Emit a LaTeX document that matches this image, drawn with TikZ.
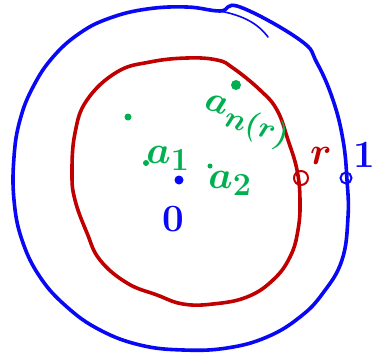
\documentclass[tikz,border=0pt]{standalone}
\definecolor{pblue}{RGB}{8,8,245}
\definecolor{pred}{RGB}{192,0,0}
\definecolor{pgreen}{RGB}{0,176,80}
\tikzset{
  stroke/.style={line width=3.6pt, line cap=round, line join=round},
  gdot/.style={circle, fill=pgreen, inner sep=0pt, minimum size=6pt},
  lbl/.style={inner sep=0pt, font=\Huge\boldmath, scale=1.55},
}
\begin{document}
\begin{tikzpicture}[x=1pt,y=-1pt]
\useasboundingbox (0,0) rectangle (376,356);
% outer blue curve
\draw[stroke, pblue] plot[smooth cycle, tension=0.7] coordinates {
 (187,7) (220,11) (240,7) (300,40) (317,63) (333,100) (343,140) (347,180)
 (348,217) (342,260) (323,293) (300,317) (267,337) (227,348) (183,350)
 (140,345) (100,330) (67,307) (40,277) (22,240) (14,200) (14,157) (20,120)
 (33,87) (53,57) (80,33) (110,18) (147,9)};
\draw[pblue, line width=1.6pt, line cap=round] (220,11) .. controls (245,16) and (258,24) .. (268,37);
% inner red curve
\draw[stroke, pred] plot[smooth cycle, tension=0.7] coordinates {
 (117,72) (150,62) (187,58) (217,60) (233,68) (260,90) (277,110) (288,140)
 (297,170) (300,200) (298,230) (290,257) (273,280) (247,297) (213,304)
 (183,304) (157,295) (127,283) (100,260) (87,233) (75,200) (72,173)
 (75,133) (87,100)};
% marked points
\node[circle, draw=pred, line width=2pt, inner sep=0pt, minimum size=14pt] (pr) at (301,178) {};
\node[circle, draw=pblue, line width=2pt, inner sep=0pt, minimum size=11pt] (p1) at (346,178) {};
\node[circle, fill=pblue, inner sep=0pt, minimum size=9pt] (o) at (179,180) {};
% green points
\node[gdot, minimum size=7pt] (g0) at (128,117) {};
\node[gdot] (g1) at (146,163) {};
\node[gdot, minimum size=5pt] (g2) at (210,166) {};
\node[gdot, minimum size=10pt] (gn) at (236,85) {};
% labels
\node[lbl, text=pblue] (l0) at (173,219) {$0$};
\node[lbl, text=pred] (lr) at (321,156) {$r$};
\node[lbl, text=pblue] (l1) at (364,155) {$1$};
\node[lbl, text=pgreen] (la1) at (168,158) {$a_1$};
\node[lbl, text=pgreen] (la2) at (230,183) {$a_2$};
\node[lbl, text=pgreen, scale=0.95, rotate=-18] (lan) at (246,123) {$a_{n(r)}$};
\end{tikzpicture}
\end{document}
